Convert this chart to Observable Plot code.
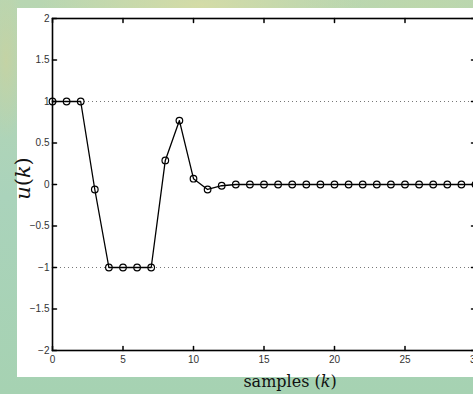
<!DOCTYPE html>
<html><head><meta charset="utf-8">
<script src="https://cdn.jsdelivr.net/npm/d3@7"></script>
<script src="https://cdn.jsdelivr.net/npm/@observablehq/plot@0.6"></script>
<style>
html,body{margin:0;padding:0;width:473px;height:394px;overflow:hidden;}
body{position:relative;
 background:
  radial-gradient(ellipse 160px 40px at 200px 5px, rgba(215,220,165,0.9), rgba(215,220,165,0) 100%),
  radial-gradient(ellipse 120px 30px at 420px 5px, rgba(190,215,170,0.8), rgba(190,215,170,0) 100%),
  radial-gradient(ellipse 20px 80px at 6px 60px, rgba(200,210,160,0.8), rgba(200,210,160,0) 100%),
  linear-gradient(180deg, #b8d6b2 0%, #aad3bb 50%, #a6d2b2 100%);}
#panel{position:absolute;left:17px;top:8px;width:470px;height:369px;background:#fff;}
#chart{position:absolute;left:0;top:0;width:480px;}
#chart svg{max-width:none !important;}
</style></head>
<body>
<div id="panel"></div>
<div id="chart"></div>
<script>
const k = d3.range(0, 31);
const u = [1, 1, 1, -0.06, -1, -1, -1, -1, 0.29, 0.77, 0.07, -0.06, -0.015, 0,
           0, 0, 0, 0, 0, 0, 0, 0, 0, 0, 0, 0, 0, 0, 0, 0, 0];
const xTicks = [0, 5, 10, 15, 20, 25, 30];
const yTicks = [-2, -1.5, -1, -0.5, 0, 0.5, 1, 1.5, 2];
const yTickLabels = ["\u22122", "\u22121.5", "\u22121", "\u22120.5", "0", "0.5", "1", "1.5", "2"];
const refLines = [-1, 1];

const data = k.map((d, i) => ({k: d, u: u[i]}));
const tickShape = {draw(ctx, l) { ctx.moveTo(0, 0); ctx.lineTo(0, -l); }};
const font = "Liberation Sans, Arial, sans-serif";

const plot = Plot.plot({
  width: 480, height: 394,
  marginLeft: 52, marginRight: 5, marginTop: 18, marginBottom: 44,
  style: {background: "transparent", fontFamily: font, fontSize: "10px", color: "#333", maxWidth: "none"},
  x: {domain: [0, 30]},
  y: {domain: [-2, 2]},
  marks: [
    Plot.ruleY(refLines, {stroke: "#777", strokeDasharray: "1,3", strokeWidth: 1}),
    Plot.axisX(xTicks, {tickSize: 0, tickPadding: 5, label: null, fill: "#333"}),
    Plot.axisY(yTicks, {tickSize: 0, tickPadding: 3, label: null, fill: "#333",
      tickFormat: (d) => yTickLabels[yTicks.indexOf(d)]}),
    Plot.vector(xTicks, {x: d => d, y: -2, length: 4, rotate: 0, anchor: "start", shape: tickShape, stroke: "#000"}),
    Plot.vector(xTicks, {x: d => d, y: 2, length: 4, rotate: 180, anchor: "start", shape: tickShape, stroke: "#000"}),
    Plot.vector(yTicks, {x: 0, y: d => d, length: 4, rotate: 90, anchor: "start", shape: tickShape, stroke: "#000"}),
    Plot.vector(yTicks, {x: 30, y: d => d, length: 4, rotate: 270, anchor: "start", shape: tickShape, stroke: "#000"}),
    Plot.line(data, {x: "k", y: "u", stroke: "#000", strokeWidth: 1.3}),
    Plot.dot(data, {x: "k", y: "u", r: 3.3, stroke: "#000", strokeWidth: 1.2, fill: "none"}),
    Plot.frame({stroke: "#000", strokeWidth: 1.6}),
    Plot.text(["ylab"], {frameAnchor: "left", text: d => d, dx: -29, dy: -6, rotate: -90,
      textAnchor: "middle", lineAnchor: "middle",
      fontSize: 21, fontFamily: "DejaVu Serif, serif", fill: "#111", className: "ylab"}),
    Plot.text(["xlab"], {frameAnchor: "bottom", text: d => d, dx: 26, dy: 31,
      textAnchor: "middle", lineAnchor: "middle",
      fontSize: 16, fontFamily: "DejaVu Serif, serif", fill: "#111", className: "xlab"})
  ]
});
document.getElementById("chart").appendChild(plot);
d3.select(plot).selectAll(".ylab text").each(function() {
  const t = d3.select(this); t.text("");
  t.append("tspan").attr("font-style", "italic").text("u");
  t.append("tspan").text("(");
  t.append("tspan").attr("font-style", "italic").text("k");
  t.append("tspan").text(")");
});
d3.select(plot).selectAll(".xlab text").each(function() {
  const t = d3.select(this); t.text("");
  t.append("tspan").text("samples (");
  t.append("tspan").attr("font-style", "italic").text("k");
  t.append("tspan").text(")");
});
</script>
</body></html>
